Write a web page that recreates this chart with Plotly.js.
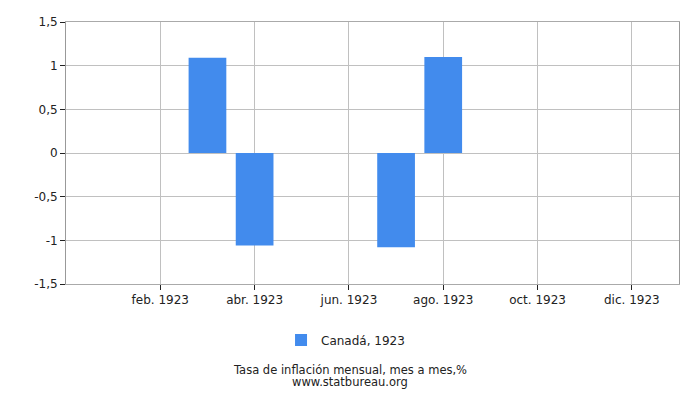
<!DOCTYPE html>
<html>
<head>
<meta charset="utf-8">
<script src="https://cdn.plot.ly/plotly-3.0.1.min.js"></script>
<style>body{margin:0;background:#fff}#chart{width:700px;height:400px}</style>
</head>
<body>
<div id="chart"></div>
<script>
const months = ['ene. 1923', 'feb. 1923', 'mar. 1923', 'abr. 1923', 'may. 1923', 'jun. 1923',
                'jul. 1923', 'ago. 1923', 'sep. 1923', 'oct. 1923', 'nov. 1923', 'dic. 1923'];
const inflation = [0, 0, 1.09, -1.06, 0, 0, -1.08, 1.1, 0, 0, 0, 0];
const tickMonths = ['feb. 1923', 'abr. 1923', 'jun. 1923', 'ago. 1923', 'oct. 1923', 'dic. 1923'];
const yTicks = [-1.5, -1, -0.5, 0, 0.5, 1, 1.5];
const yTickText = ['-1,5', '-1', '-0,5', '0', '0,5', '1', '1,5'];
const seriesName = 'Canadá, 1923';

const font = { family: 'DejaVu Sans, Verdana, sans-serif', size: 12, color: '#222' };
const plotW = 700 - 66 - 21;
const plotH = 400 - 22 - 116;

const traces = [{
    type: 'bar', name: seriesName, x: months, y: inflation, width: 0.8,
    marker: { color: '#428bed', line: { width: 0 } }, showlegend: true
}];

const layout = {
    width: 700, height: 400,
    margin: { l: 66, r: 21, t: 22, b: 116 },
    font: font,
    plot_bgcolor: '#fff', paper_bgcolor: '#fff',
    showlegend: true,
    legend: { orientation: 'h', x: 0.456, xanchor: 'center', yref: 'container', y: 0.15, yanchor: 'middle',
              font: { family: font.family, size: 12, color: '#222' } },
    xaxis: {
        type: 'category', categoryorder: 'array', categoryarray: months,
        range: [-1, 12], tickmode: 'array', tickvals: tickMonths, ticktext: tickMonths,
        showgrid: true, gridcolor: '#c0c0c0', gridwidth: 1,
        ticks: 'outside', ticklen: 5, tickcolor: '#222',
        showline: true, linecolor: '#aaa', mirror: true, zeroline: false,
        tickfont: { family: font.family, size: 12, color: '#222' }
    },
    yaxis: {
        range: [-1.5, 1.5], tickmode: 'array', tickvals: yTicks, ticktext: yTickText,
        showgrid: true, gridcolor: '#c0c0c0', gridwidth: 1,
        ticks: 'outside', ticklen: 5, tickcolor: '#222',
        showline: true, linecolor: '#999', mirror: true,
        zeroline: true, zerolinecolor: '#c0c0c0', zerolinewidth: 1,
        tickfont: { family: font.family, size: 12, color: '#222' }
    },
    annotations: [
        { text: 'Tasa de inflación mensual, mes a mes,%', xref: 'paper', yref: 'paper', x: (350 - 66) / plotW, y: -(369.5 - 284) / plotH,
          xanchor: 'center', yanchor: 'middle', showarrow: false, font: { family: font.family, size: 11.5, color: '#222' } },
        { text: 'www.statbureau.org', xref: 'paper', yref: 'paper', x: (350 - 66) / plotW, y: -(381.5 - 284) / plotH,
          xanchor: 'center', yanchor: 'middle', showarrow: false, font: { family: font.family, size: 11.5, color: '#222' } }
    ]
};

Plotly.newPlot('chart', traces, layout, { displayModeBar: false, staticPlot: true });
</script>
</body>
</html>
